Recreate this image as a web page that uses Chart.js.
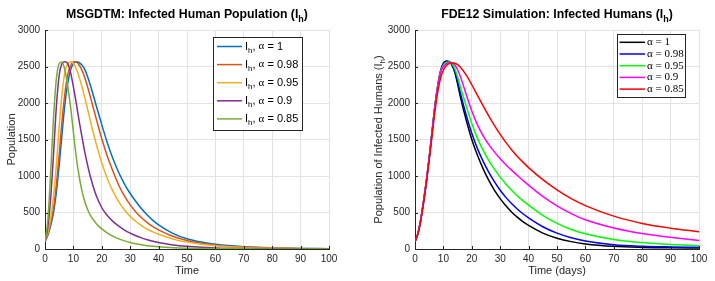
<!DOCTYPE html>
<html lang="en">
<head>
  <meta charset="UTF-8">
  <title>Infected Humans</title>
  <script src="https://cdn.jsdelivr.net/npm/chart.js"></script>
  <style>
    body { margin: 0; background: #fff; }
    canvas { position: absolute; top: 0; }
    #leftChart { left: 0; }
    #rightChart { left: 357px; }
  </style>
</head>
<body>
<canvas id="leftChart" width="357" height="281"></canvas>
<canvas id="rightChart" width="358" height="281"></canvas>

<script>
  // time points (days), shared by every curve
  var timeDays = [0,1,2,3,4,5,6,7,8,9,10,11,12,13,14,15,16,18,20,22,24,26,28,30,32,34,36,38,40,45,50,55,60,70,80,90,100];

  var alphaLabels = ['1', '0.98', '0.95', '0.9', '0.85'];

  // MSGDTM curves (left)
  var msgA1   = [100,190,320,500,780,1150,1580,1980,2270,2450,2540,2565,2555,2520,2460,2360,2240,1970,1700,1450,1230,1045,890,760,650,550,465,392,330,215,140,95,65,32,16,8,4];
  var msgA098 = [100,200,350,560,880,1300,1760,2130,2390,2510,2560,2560,2520,2450,2350,2220,2080,1790,1510,1265,1060,870,725,605,508,428,362,308,263,175,117,78,53,27,13,6,3];
  var msgA095 = [100,230,420,720,1150,1680,2130,2420,2540,2565,2540,2470,2360,2225,2075,1915,1750,1445,1180,960,785,645,535,447,377,320,273,234,201,138,94,64,44,21,10,5,2];
  var msgA09  = [100,300,700,1300,1950,2380,2540,2565,2540,2420,2220,2000,1760,1540,1330,1150,990,735,565,455,375,312,260,218,182,152,127,106,88,56,36,23,15,7,3,2,1];
  var msgA085 = [100,400,1050,1800,2330,2540,2560,2450,2230,1950,1600,1260,1000,800,650,540,460,350,275,218,174,139,111,89,71,57,46,37,30,18,11,7,4,2,1,0,0];

  // FDE12 curves (right)
  var fdeA1   = [100,210,400,650,930,1250,1600,1950,2230,2440,2545,2575,2565,2520,2420,2260,2080,1770,1500,1283,1098,939,803,690,592,508,436,375,323,218,148,101,70,36,22,16,14];
  var fdeA098 = [100,210,400,650,930,1250,1600,1950,2230,2435,2535,2568,2568,2530,2440,2300,2130,1840,1585,1375,1200,1050,920,805,707,622,548,483,426,305,218,155,110,58,37,28,23];
  var fdeA095 = [100,210,400,650,930,1250,1600,1950,2230,2430,2520,2555,2562,2540,2470,2360,2220,1965,1720,1515,1350,1210,1090,985,890,805,730,662,600,460,350,268,208,130,88,62,46];
  var fdeA09  = [100,210,400,650,930,1250,1600,1950,2225,2420,2500,2535,2550,2550,2520,2455,2360,2120,1890,1700,1550,1430,1327,1237,1155,1080,1010,940,875,720,590,485,400,288,212,160,118];
  var fdeA085 = [100,200,380,620,900,1210,1550,1880,2150,2340,2450,2510,2540,2548,2545,2525,2490,2385,2250,2105,1960,1820,1690,1570,1460,1360,1270,1190,1115,950,810,690,595,450,350,285,237];

  var leftColors = ['#0072BD', '#D95319', '#EDB120', '#7E2F8E', '#77AC30'];
  var rightColors = ['#000000', '#0000FF', '#00FF00', '#FF00FF', '#FF0000'];

  var sansFont = '"Liberation Sans", Arial, sans-serif';
  var serifFont = '"Liberation Serif", "DejaVu Serif", serif';
  var inkColor = '#262626';

  Chart.defaults.font.family = sansFont;
  Chart.defaults.color = inkColor;

  function toPoints(values) {
    return timeDays.map(function(t, i) { return { x: t, y: values[i] }; });
  }

  // draw text made of pieces: 'n' normal, 's' subscript, 'g' serif
  function drawParts(ctx, parts, x, y, size, opt) {
    opt = opt || {};
    var weight = opt.bold ? 'bold ' : '';
    function fontFor(st) {
      if (st === 's') return weight + Math.round(size * 0.75) + 'px ' + sansFont;
      if (st === 'g') return size + 'px ' + serifFont;
      return weight + size + 'px ' + sansFont;
    }
    ctx.save();
    var w = 0;
    parts.forEach(function(p) { ctx.font = fontFor(p[1]); w += ctx.measureText(p[0]).width; });
    ctx.translate(x, y);
    if (opt.rotate) ctx.rotate(-Math.PI / 2);
    var cx = opt.align === 'left' ? 0 : -w / 2;
    ctx.textBaseline = 'middle';
    ctx.textAlign = 'left';
    ctx.fillStyle = opt.color || inkColor;
    parts.forEach(function(p) {
      ctx.font = fontFor(p[1]);
      var dy = p[1] === 's' ? size * 0.35 : 0;
      ctx.fillText(p[0], cx, dy);
      cx += ctx.measureText(p[0]).width;
    });
    ctx.restore();
  }

  // inward tick marks like MATLAB
  function drawInnerTicks(chart) {
    var ctx = chart.ctx, a = chart.chartArea;
    ctx.save();
    ctx.strokeStyle = inkColor;
    ctx.lineWidth = 1;
    ctx.beginPath();
    chart.scales.y.ticks.forEach(function(t) {
      var py = Math.round(chart.scales.y.getPixelForValue(t.value)) + 0.5;
      ctx.moveTo(a.left, py); ctx.lineTo(a.left + 3, py);
    });
    chart.scales.x.ticks.forEach(function(t) {
      var px = Math.round(chart.scales.x.getPixelForValue(t.value)) + 0.5;
      ctx.moveTo(px, a.bottom); ctx.lineTo(px, a.bottom - 3);
    });
    ctx.stroke();
    ctx.restore();
  }

  function drawLegend(ctx, box, colors, rows) {
    ctx.save();
    ctx.fillStyle = '#fff';
    ctx.fillRect(box.x, box.y, box.w, box.h);
    ctx.strokeStyle = inkColor;
    ctx.lineWidth = 1;
    ctx.strokeRect(box.x + 0.5, box.y + 0.5, box.w, box.h);
    rows.forEach(function(parts, i) {
      var ry = box.y + box.first + i * box.step;
      ctx.strokeStyle = colors[i];
      ctx.lineWidth = 1.5;
      ctx.beginPath();
      ctx.moveTo(box.x + box.lineX0, ry);
      ctx.lineTo(box.x + box.lineX1, ry);
      ctx.stroke();
      drawParts(ctx, parts, box.x + box.textX, ry, box.size, { align: 'left', color: '#000' });
    });
    ctx.restore();
  }

  function makeDatasets(series, colors) {
    return series.map(function(values, i) {
      return {
        label: alphaLabels[i],
        data: toPoints(values),
        borderColor: colors[i],
        borderWidth: 1.5,
        pointRadius: 0,
        fill: false,
        cubicInterpolationMode: 'monotone',
        order: series.length - i
      };
    });
  }

  function makeScales(yWidth) {
    return {
      x: {
        type: 'linear', min: 0, max: 100,
        ticks: { stepSize: 10, padding: 4, font: { size: 10 }, color: inkColor, maxRotation: 0,
                 callback: function(v) { return String(v); } },
        grid: { color: '#e2e2e2', drawTicks: false },
        border: { color: inkColor, width: 1 },
        afterFit: function(s) { s.height = 32; }
      },
      y: {
        min: 0, max: 3000,
        ticks: { stepSize: 500, padding: 5, font: { size: 10 }, color: inkColor,
                 callback: function(v) { return String(v); } },
        grid: { color: '#e2e2e2', drawTicks: false },
        border: { color: inkColor, width: 1 },
        afterFit: function(s) { s.width = yWidth; }
      }
    };
  }

  // left chart
  new Chart(document.getElementById('leftChart').getContext('2d'), {
    type: 'line',
    data: { datasets: makeDatasets([msgA1, msgA098, msgA095, msgA09, msgA085], leftColors) },
    options: {
      responsive: false,
      animation: false,
      devicePixelRatio: 1,
      layout: { padding: { top: 30, right: 28, left: 0, bottom: 0 } },
      plugins: { legend: { display: false }, tooltip: { enabled: false } },
      scales: makeScales(45)
    },
    plugins: [{
      id: 'leftDecor',
      afterDraw: function(chart) {
        var ctx = chart.ctx, a = chart.chartArea;
        var mid = (a.left + a.right) / 2;
        drawInnerTicks(chart);
        drawParts(ctx, [['MSGDTM: Infected Human Population (I', 'n'], ['h', 's'], [')', 'n']], mid, 15, 12.3, { bold: true, color: '#000' });
        drawParts(ctx, [['Time', 'n']], mid, 271, 11);
        drawParts(ctx, [['Population', 'n']], 12, (a.top + a.bottom) / 2, 11, { rotate: true });
        drawLegend(ctx, { x: 213, y: 37, w: 89, h: 93, first: 9.5, step: 18.1, lineX0: 4, lineX1: 29, textX: 32, size: 11 },
          leftColors,
          alphaLabels.map(function(l) { return [['I', 'n'], ['h', 's'], [', ', 'n'], ['α', 'g'], [' = ' + l, 'n']]; }));
      }
    }]
  });

  // right chart
  new Chart(document.getElementById('rightChart').getContext('2d'), {
    type: 'line',
    data: { datasets: makeDatasets([fdeA1, fdeA098, fdeA095, fdeA09, fdeA085], rightColors) },
    options: {
      responsive: false,
      animation: false,
      devicePixelRatio: 1,
      layout: { padding: { top: 30, right: 16, left: 0, bottom: 0 } },
      plugins: { legend: { display: false }, tooltip: { enabled: false } },
      scales: makeScales(58)
    },
    plugins: [{
      id: 'rightDecor',
      afterDraw: function(chart) {
        var ctx = chart.ctx, a = chart.chartArea;
        var mid = (a.left + a.right) / 2;
        drawInnerTicks(chart);
        drawParts(ctx, [['FDE12 Simulation: Infected Humans (I', 'n'], ['h', 's'], [')', 'n']], mid, 15, 12.3, { bold: true, color: '#000' });
        drawParts(ctx, [['Time (days)', 'n']], mid, 271, 11);
        drawParts(ctx, [['Population of Infected Humans (I', 'n'], ['h', 's'], [')', 'n']], 22, (a.top + a.bottom) / 2, 11, { rotate: true });
        drawLegend(ctx, { x: 260, y: 34, w: 68, h: 63, first: 8.3, step: 11.7, lineX0: 2.5, lineX1: 28, textX: 30, size: 11 },
          rightColors,
          alphaLabels.map(function(l) { return [['α', 'g'], [' = ' + l, 'g']]; }));
      }
    }]
  });
</script>
</body>
</html>
